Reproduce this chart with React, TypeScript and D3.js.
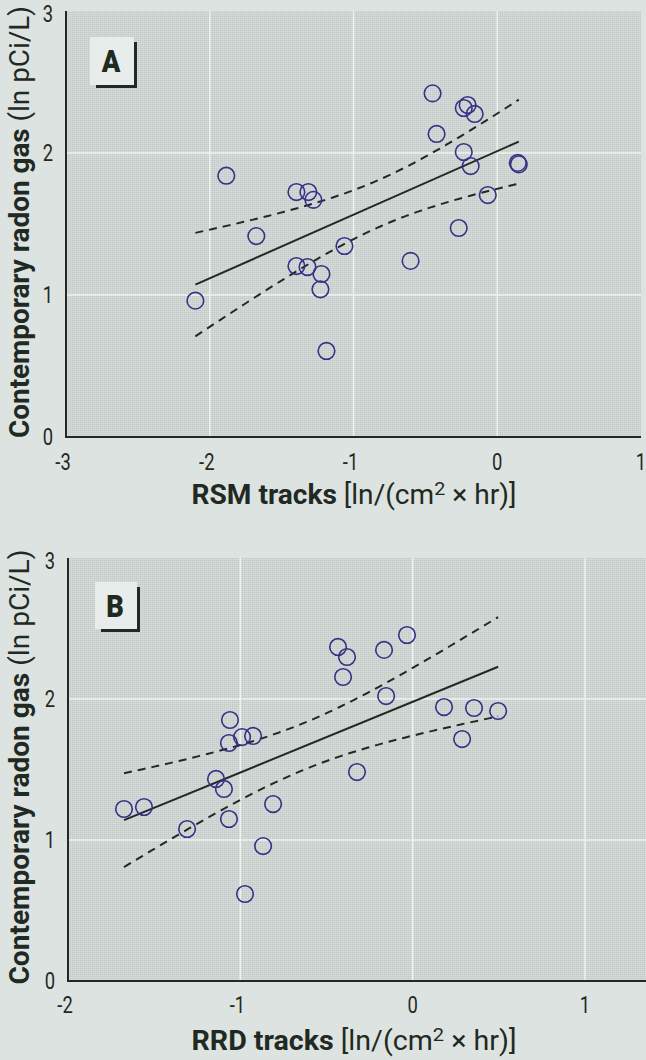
import React from "react";
import * as d3 from "d3";

// Panel A: RSM tracks vs contemporary radon gas
const rsmX = [-2.10, -1.885, -1.676, -1.397, -1.314, -1.279, -1.397, -1.32, -1.223, -1.23, -1.063, -1.188,
  -0.603, -0.45, -0.233, -0.206, -0.157, -0.422, -0.233, -0.185, 0.143, 0.15, -0.066, -0.268];
const rsmY = [0.96, 1.84, 1.415, 1.725, 1.725, 1.67, 1.204, 1.197, 1.148, 1.04, 1.345, 0.606,
  1.24, 2.42, 2.317, 2.338, 2.275, 2.134, 2.007, 1.908, 1.93, 1.92, 1.704, 1.472];

// Panel B: RRD tracks vs contemporary radon gas
const rrdX = [-1.060, -1.066, -0.990, -0.926, -1.141, -1.095, -1.675, -1.559, -1.309, -1.066, -0.810, -0.868,
  -0.973, -0.433, -0.381, -0.404, -0.166, -0.033, -0.154, 0.182, 0.356, 0.496, 0.287, -0.323];
const rrdY = [1.851, 1.688, 1.730, 1.738, 1.433, 1.362, 1.220, 1.234, 1.078, 1.149, 1.255, 0.957,
  0.617, 2.369, 2.298, 2.156, 2.348, 2.454, 2.021, 1.943, 1.936, 1.915, 1.716, 1.482];

const yTicks = [0, 1, 2, 3];
const xTicksA = [-3, -2, -1, 0, 1];
const xTicksB = [-2, -1, 0, 1];
const yTitleBold = "Contemporary radon gas";
const yTitleRest = "(ln pCi/L)";

const FONT = "Roboto, 'Liberation Sans', sans-serif";
const BG = "#dde3e1";
const INK = "#1f2a22";
const DOT = "#3a2f86";

function fit(xs: number[], ys: number[]) {
  const n = xs.length;
  const mx = d3.mean(xs) as number;
  const my = d3.mean(ys) as number;
  let sxx = 0, sxy = 0;
  xs.forEach((x, i) => { sxx += (x - mx) ** 2; sxy += (x - mx) * (ys[i] - my); });
  const b = sxy / sxx;
  const a = my - b * mx;
  let sse = 0;
  xs.forEach((x, i) => { sse += (ys[i] - a - b * x) ** 2; });
  const s = Math.sqrt(sse / (n - 2));
  const t = 2.074;
  const [xmin, xmax] = d3.extent(xs) as [number, number];
  const pts = d3.range(0, 41).map(k => xmin + (xmax - xmin) * k / 40);
  const hw = (x: number) => t * s * Math.sqrt(1 / n + (x - mx) ** 2 / sxx);
  return {
    line: [xmin, xmax].map(x => [x, a + b * x]),
    upper: pts.map(x => [x, a + b * x + hw(x)]),
    lower: pts.map(x => [x, a + b * x - hw(x)]),
  };
}

type PanelProps = {
  xs: number[]; ys: number[]; xTicks: number[];
  xDomain: [number, number]; xRange: [number, number]; plotRight: number;
  yRange: [number, number]; letter: string; xName: string;
  box: { x: number; y: number; w: number; h: number };
  xTitleY: number; tickLabelY: number; yTitleCenter: number; yTitleLen: number;
};

function Panel(p: PanelProps) {
  const x = d3.scaleLinear().domain(p.xDomain).range(p.xRange);
  const y = d3.scaleLinear().domain([0, 3]).range(p.yRange);
  const f = fit(p.xs, p.ys);
  const ln = d3.line<number[]>().x(d => x(d[0])).y(d => y(d[1])).curve(d3.curveMonotoneX);
  const left = p.xRange[0];
  const top = y(3), bottom = y(0);
  const { box } = p;
  return (
    <g>
      <rect x={left} y={top} width={p.plotRight - left} height={bottom - top} fill="url(#dither)" />
      {p.xTicks.filter(t => x(t) > left + 2 && x(t) < p.plotRight - 2).map(t => (
        <line key={"gx" + t} x1={x(t)} x2={x(t)} y1={top} y2={bottom} stroke="#eef2f1" strokeWidth={1.5} />
      ))}
      {[1, 2].map(t => (
        <line key={"gy" + t} x1={left} x2={p.plotRight} y1={y(t)} y2={y(t)} stroke="#eef2f1" strokeWidth={1.5} />
      ))}
      {/* letter box */}
      <rect x={box.x} y={box.y} width={box.w} height={box.h} fill="#e8eceb" />
      <text transform={`translate(${box.x + box.w / 2 - 1},${box.y + box.h / 2 + 11}) scale(0.88,1)`}
        textAnchor="middle" fontFamily={FONT} fontWeight="900" fontSize={31} fill={INK}>{p.letter}</text>
      <path d={`M${box.x + box.w + 1.5},${box.y + 5} V${box.y + box.h + 1.5} H${box.x + 6}`} fill="none"
        stroke={INK} strokeWidth={3} />
      {/* fit lines */}
      <path d={ln(f.upper) as string} fill="none" stroke={INK} strokeWidth={2} strokeDasharray="8,6" />
      <path d={ln(f.lower) as string} fill="none" stroke={INK} strokeWidth={2} strokeDasharray="8,6" />
      <path d={ln(f.line) as string} fill="none" stroke={INK} strokeWidth={2} />
      {p.xs.map((v, i) => (
        <circle key={i} cx={x(v)} cy={y(p.ys[i])} r={8.3} fill="none" stroke={DOT} strokeWidth={1.6} />
      ))}
      {/* axes */}
      <line x1={left} x2={left} y1={top} y2={bottom + 1} stroke={INK} strokeWidth={2} />
      <line x1={left - 1} x2={p.plotRight} y1={bottom} y2={bottom} stroke={INK} strokeWidth={2} />
      {yTicks.map(t => (
        <text key={"yt" + t} transform={`translate(${left - 18},${y(t) + 8 + (t === 3 ? 3 : 0)}) scale(0.8,1)`}
          textAnchor="middle" fontFamily={FONT} fontSize={23} fill={INK}>{t}</text>
      ))}
      {p.xTicks.map(t => (
        <text key={"xt" + t} transform={`translate(${x(t) - (t < 0 ? 3 : 0)},${p.tickLabelY}) scale(0.8,1)`}
          textAnchor="middle" fontFamily={FONT} fontSize={23} fill={INK}>{t < 0 ? "-" + Math.abs(t) : t}</text>
      ))}
      <text x={354} y={p.xTitleY} textAnchor="middle" fontFamily={FONT} fontSize={27} fill={INK}
        textLength={325} lengthAdjust="spacingAndGlyphs">
        <tspan fontWeight="bold">{p.xName}</tspan>
        <tspan> [ln/(cm</tspan>
        <tspan fontSize={19} dy={-9}>2</tspan>
        <tspan dy={9}> × hr)]</tspan>
      </text>
      <text transform={`translate(29,${p.yTitleCenter}) rotate(-90)`} textAnchor="middle" fontFamily={FONT}
        fontSize={27} fill={INK} textLength={p.yTitleLen} lengthAdjust="spacingAndGlyphs">
        <tspan fontWeight="bold">{yTitleBold}</tspan>
        <tspan> {yTitleRest}</tspan>
      </text>
    </g>
  );
}

export default function App() {
  return (
    <svg width={646} height={1060} style={{ position: "absolute", left: 0, top: 0, background: BG }}>
      <defs>
        <pattern id="dither" width={2} height={2} patternUnits="userSpaceOnUse">
          <rect width={2} height={2} fill="#cdd4d2" />
          <rect width={1} height={1} fill="#c4ccca" />
          <rect x={1} y={1} width={1} height={1} fill="#d5dcda" />
        </pattern>
      </defs>
      <rect width={646} height={1060} fill={BG} />
      <Panel xs={rsmX} ys={rsmY} xTicks={xTicksA} xDomain={[-3, 1]} xRange={[66, 641]} plotRight={641}
        yRange={[437, 11]} letter="A" xName="RSM tracks" box={{ x: 90, y: 37, w: 44, h: 48 }}
        xTitleY={504} tickLabelY={470} yTitleCenter={222} yTitleLen={432} />
      <Panel xs={rrdX} ys={rrdY} xTicks={xTicksB} xDomain={[-2, 1]} xRange={[68, 585]} plotRight={646}
        yRange={[981, 558]} letter="B" xName="RRD tracks" box={{ x: 95, y: 582, w: 42, h: 47 }}
        xTitleY={1050} tickLabelY={1013} yTitleCenter={767} yTitleLen={435} />
    </svg>
  );
}
